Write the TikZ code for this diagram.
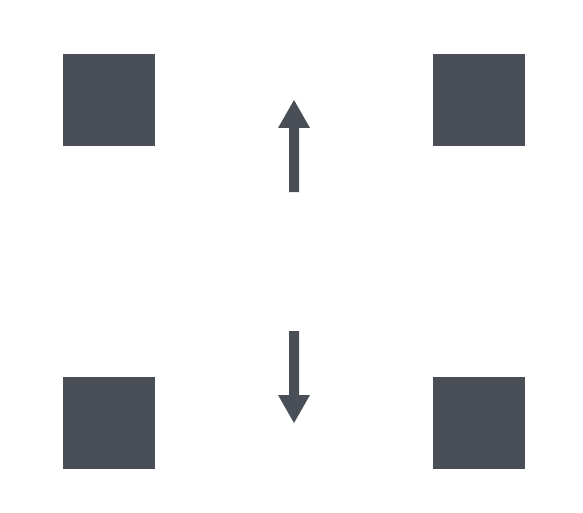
\documentclass[tikz,border=0pt]{standalone}
\definecolor{slate}{HTML}{4A4F57}
\begin{document}
\begin{tikzpicture}[x=1pt,y=-1pt,
  sq/.style={fill=slate,draw=none,minimum width=92pt,minimum height=92pt,inner sep=0pt,outer sep=0pt},
  arr/.style={fill=slate,draw=none}]
\useasboundingbox (0,0) rectangle (583,513);
\node[sq] (tl) at (109,100) {};
\node[sq] (tr) at (479,100) {};
\node[sq] (bl) at (109,423) {};
\node[sq] (br) at (479,423) {};
\fill[arr] (294,100) -- (310,128) -- (299,128) -- (299,192) -- (289,192) -- (289,128) -- (278,128) -- cycle;
\fill[arr] (294,423) -- (310,395) -- (299,395) -- (299,331) -- (289,331) -- (289,395) -- (278,395) -- cycle;
\end{tikzpicture}
\end{document}
